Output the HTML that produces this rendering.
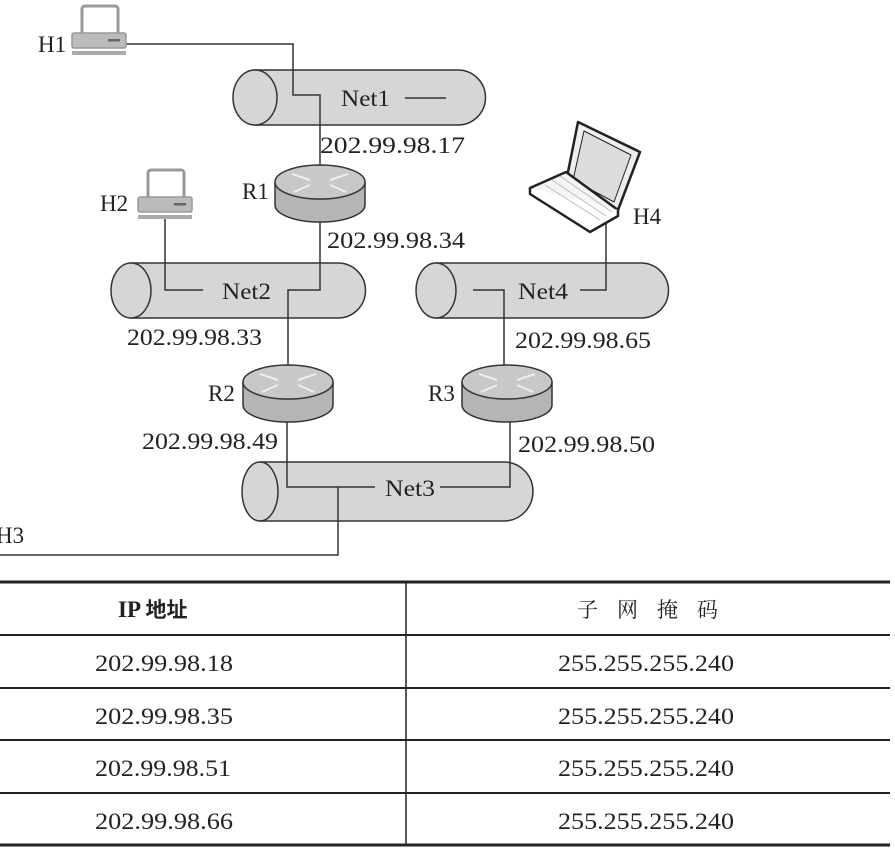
<!DOCTYPE html>
<html><head><meta charset="utf-8"><style>
html,body{margin:0;padding:0;background:#fff;}
svg{display:block;}
text{font-family:"Liberation Serif","Noto Serif CJK SC",serif;fill:#222;}
</style></head><body>
<svg width="895" height="852" viewBox="0 0 895 852" xmlns="http://www.w3.org/2000/svg">
<defs>
<g id="pc">
  <rect x="10" y="0" width="36" height="28" rx="3" fill="#fff" stroke="#999" stroke-width="3"/>
  <rect x="0" y="27" width="54" height="15" rx="2" fill="#bbb" stroke="#999" stroke-width="1.5"/>
  <rect x="36" y="33" width="12" height="2.5" fill="#666"/>
  <rect x="0" y="45" width="54" height="4" fill="#aaa"/>
</g>
<g id="rt">
  <path d="M-45,0 L-45,23 A45,17 0 0 0 45,23 L45,0" fill="#b5b5b5" stroke="#333" stroke-width="1.5"/>
  <ellipse cx="0" cy="0" rx="45" ry="17" fill="#c8c8c8" stroke="#333" stroke-width="1.5"/>
  <g stroke="#eee" stroke-width="2">
    <line x1="-28" y1="-8" x2="-10" y2="-2"/><line x1="28" y1="-8" x2="10" y2="-2"/>
    <line x1="-26" y1="10" x2="-10" y2="3"/><line x1="26" y1="10" x2="10" y2="3"/>
  </g>
</g>
</defs>

<path d="M255,70 L458,70 A27,27 0 0 1 458,125 L255,125 Z" fill="#d6d6d6" stroke="#333" stroke-width="1.5"/>
<ellipse cx="255" cy="97.5" rx="22" ry="27.5" fill="#d6d6d6" stroke="#333" stroke-width="1.5"/>
<path d="M131,263 L338,263 A27,27 0 0 1 338,318 L131,318 Z" fill="#d6d6d6" stroke="#333" stroke-width="1.5"/>
<ellipse cx="131" cy="290.5" rx="20" ry="27.5" fill="#d6d6d6" stroke="#333" stroke-width="1.5"/>
<path d="M436,263 L641,263 A27,27 0 0 1 641,318 L436,318 Z" fill="#d6d6d6" stroke="#333" stroke-width="1.5"/>
<ellipse cx="436" cy="290.5" rx="20" ry="27.5" fill="#d6d6d6" stroke="#333" stroke-width="1.5"/>
<path d="M260,462 L504,462 A29,29.5 0 0 1 504,521 L260,521 Z" fill="#d6d6d6" stroke="#333" stroke-width="1.5"/>
<ellipse cx="260" cy="491.5" rx="18" ry="29.5" fill="#d6d6d6" stroke="#333" stroke-width="1.5"/>

<g fill="none" stroke="#333" stroke-width="1.5">
  <polyline points="125,44 293,44 293,95 320,95 320,168"/>
  <line x1="405" y1="98" x2="446" y2="98"/>
  <polyline points="320,218 320,290 288,290 288,366"/>
  <polyline points="165,218 165,290 203,290"/>
  <polyline points="473,290 504,290 504,366"/>
  <polyline points="580,290 606,290 606,218"/>
  <polyline points="287,420 287,487 375,487"/>
  <polyline points="440,487 510,487 510,420"/>
  <polyline points="338,487 338,555 0,555"/>
</g>

<use href="#pc" x="72" y="6"/>
<use href="#pc" x="138" y="170"/>
<use href="#rt" x="320" y="182"/>
<use href="#rt" x="288" y="382"/>
<use href="#rt" x="507" y="382"/>

<g stroke="#222" stroke-width="2.5" stroke-linejoin="round">
  <polygon points="578,122 640,152 618,210 566,182" fill="#eee"/>
  <polygon points="584,131 631,155 614,202 573,180" fill="#ddd" stroke-width="1"/>
  <polygon points="530,188 566,172 618,210 590,226" fill="#f4f4f4"/>
  <path d="M530,188 L530,194 L590,232 L618,216 L618,210" fill="#fff"/>
</g>
<g stroke="#bbb" stroke-width="1">
  <line x1="545" y1="185" x2="600" y2="220"/><line x1="552" y1="180" x2="606" y2="216"/><line x1="560" y1="176" x2="612" y2="212"/>
</g>

<g font-size="23">
  <text x="38" y="52">H1</text>
  <text x="100" y="211">H2</text>
  <text x="242" y="199">R1</text>
  <text x="208" y="401">R2</text>
  <text x="428" y="401">R3</text>
  <text x="633" y="224">H4</text>
  <text x="-4" y="543">H3</text>
  <text x="341" y="106" textLength="49" lengthAdjust="spacingAndGlyphs">Net1</text>
  <text x="222" y="299" textLength="49" lengthAdjust="spacingAndGlyphs">Net2</text>
  <text x="518" y="299" textLength="50" lengthAdjust="spacingAndGlyphs">Net4</text>
  <text x="385" y="496" textLength="50" lengthAdjust="spacingAndGlyphs">Net3</text>
  <text x="320" y="153" textLength="145" lengthAdjust="spacingAndGlyphs">202.99.98.17</text>
  <text x="327" y="248" textLength="138" lengthAdjust="spacingAndGlyphs">202.99.98.34</text>
  <text x="127" y="345" textLength="135" lengthAdjust="spacingAndGlyphs">202.99.98.33</text>
  <text x="515" y="348" textLength="136" lengthAdjust="spacingAndGlyphs">202.99.98.65</text>
  <text x="142" y="449" textLength="136" lengthAdjust="spacingAndGlyphs">202.99.98.49</text>
  <text x="518" y="452" textLength="137" lengthAdjust="spacingAndGlyphs">202.99.98.50</text>
</g>

<g stroke="#222">
  <line x1="0" y1="582" x2="890" y2="582" stroke-width="3"/>
  <line x1="0" y1="635" x2="890" y2="635" stroke-width="2"/>
  <line x1="0" y1="688" x2="890" y2="688" stroke-width="2"/>
  <line x1="0" y1="740" x2="890" y2="740" stroke-width="2"/>
  <line x1="0" y1="793" x2="890" y2="793" stroke-width="2"/>
  <line x1="0" y1="845" x2="890" y2="845" stroke-width="3"/>
  <line x1="406" y1="582" x2="406" y2="845" stroke-width="1.5"/>
</g>
<g font-size="23">
  <text x="118" y="617" font-weight="bold">IP <tspan font-family="Noto Sans CJK SC" font-weight="bold" font-size="21">地址</tspan></text>
  <text x="577" y="617" font-family="Noto Serif CJK SC, serif" font-size="21" textLength="141" lengthAdjust="spacing">子网掩码</text>
  <text x="95" y="671" textLength="138" lengthAdjust="spacingAndGlyphs">202.99.98.18</text>
  <text x="95" y="724" textLength="138" lengthAdjust="spacingAndGlyphs">202.99.98.35</text>
  <text x="95" y="776" textLength="136" lengthAdjust="spacingAndGlyphs">202.99.98.51</text>
  <text x="95" y="829" textLength="138" lengthAdjust="spacingAndGlyphs">202.99.98.66</text>
  <text x="558" y="671" textLength="176" lengthAdjust="spacingAndGlyphs">255.255.255.240</text>
  <text x="558" y="724" textLength="176" lengthAdjust="spacingAndGlyphs">255.255.255.240</text>
  <text x="558" y="776" textLength="176" lengthAdjust="spacingAndGlyphs">255.255.255.240</text>
  <text x="558" y="829" textLength="176" lengthAdjust="spacingAndGlyphs">255.255.255.240</text>
</g>
</svg>
</body></html>
